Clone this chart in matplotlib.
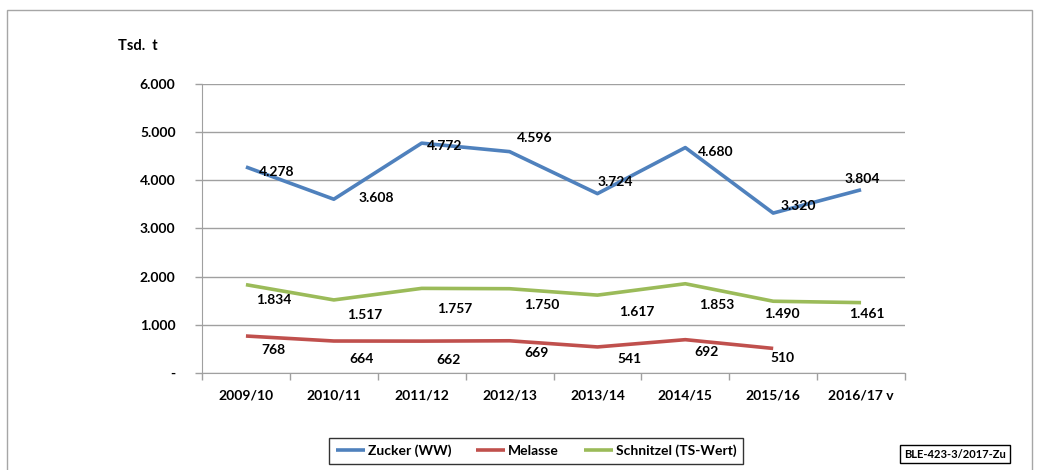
import matplotlib
matplotlib.use("Agg")
import matplotlib.pyplot as plt
from matplotlib.patches import Rectangle

plt.rcParams['font.family'] = ['Lato', 'DejaVu Sans']
plt.rcParams['font.weight'] = 'bold'

years = ['2009/10', '2010/11', '2011/12', '2012/13', '2013/14', '2014/15', '2015/16', '2016/17 v']
zucker = [4278, 3608, 4772, 4596, 3724, 4680, 3320, 3804]
melasse = [768, 664, 662, 669, 541, 692, 510]
schnitzel = [1834, 1517, 1757, 1750, 1617, 1853, 1490, 1461]

# label offsets in pixels (dx, dy down)
off_zucker = [(31, 5), (42, -1), (23, 3), (25, -14), (18, -12), (30, 4), (25, -7), (1, -11)]
off_melasse = [(27, 14), (28, 18), (27, 19), (27, 12), (32, 12), (21, 12), (9, 10)]
off_schnitzel = [(28, 15), (31, 15), (33, 21), (32, 16), (39, 17), (31, 21), (9, 13), (6, 11)]

def fmt(v):
    return f"{v:,}".replace(",", ".")

fig = plt.figure(figsize=(10.39, 4.70), dpi=100)
fig.patches.append(Rectangle((7 / 1039, -5 / 470), 1025 / 1039, 465 / 470, transform=fig.transFigure,
                             fill=False, edgecolor='#a6a6a6', linewidth=1))
ax = fig.add_axes([202 / 1039, 97 / 470, 703 / 1039, 289 / 470])

series = [
    (zucker, '#4f81bd', 'Zucker (WW)', off_zucker),
    (melasse, '#c0504d', 'Melasse', off_melasse),
    (schnitzel, '#9bbb59', 'Schnitzel (TS-Wert)', off_schnitzel),
]
for vals, col, name, offs in series:
    xs = list(range(len(vals)))
    ax.plot(xs, vals, color=col, linewidth=2.6, label=name, solid_capstyle='butt')
    for x, v, (dx, dy) in zip(xs, vals, offs):
        ax.annotate(fmt(v), (x, v), xytext=(dx * 0.72, -dy * 0.72), textcoords='offset points',
                    ha='center', va='center', fontsize=10, fontweight='bold')

ax.set_xlim(-0.5, 7.5)
ax.set_ylim(0, 6000)
ax.set_yticks(range(0, 6001, 1000))
ax.set_yticklabels(['-'] + [fmt(v) for v in range(1000, 6001, 1000)])
ax.yaxis.grid(True, color='#a0a0a0', linewidth=1)
ax.set_axisbelow(True)
ax.set_xticks([i - 0.5 for i in range(9)])
ax.set_xticklabels([])
ax.set_xticks(range(8), minor=True)
ax.set_xticklabels(years, minor=True)
ax.tick_params(axis='x', which='major', length=5, color='#a0a0a0', width=1)
ax.tick_params(axis='x', which='minor', length=0, pad=12, labelsize=10)
ax.tick_params(axis='y', length=5, color='#a0a0a0', width=1, pad=14, labelsize=10)
for s in ['top', 'right']:
    ax.spines[s].set_visible(False)
for s in ['left', 'bottom']:
    ax.spines[s].set_color('#a0a0a0')

fig.text(118 / 1039, 1 - 46 / 470, 'Tsd.  t', fontsize=10.5, fontweight='bold', va='center')

leg = fig.legend(loc='center', bbox_to_anchor=(536 / 1039, 1 - 451 / 470), ncol=3, frameon=True,
                 fancybox=False, edgecolor='black', handlelength=2.1, handletextpad=0.2,
                 columnspacing=1.8, prop={'size': 10, 'weight': 'bold'}, borderpad=0.45)
leg.get_frame().set_linewidth(1)

fig.text(955 / 1039, 1 - 454 / 470, 'BLE-423-3/2017-Zu', fontsize=8, fontweight='bold', ha='center', va='center',
         bbox=dict(boxstyle='square,pad=0.35', facecolor='white', edgecolor='black', linewidth=1))

fig.savefig('out.png', dpi=100)
